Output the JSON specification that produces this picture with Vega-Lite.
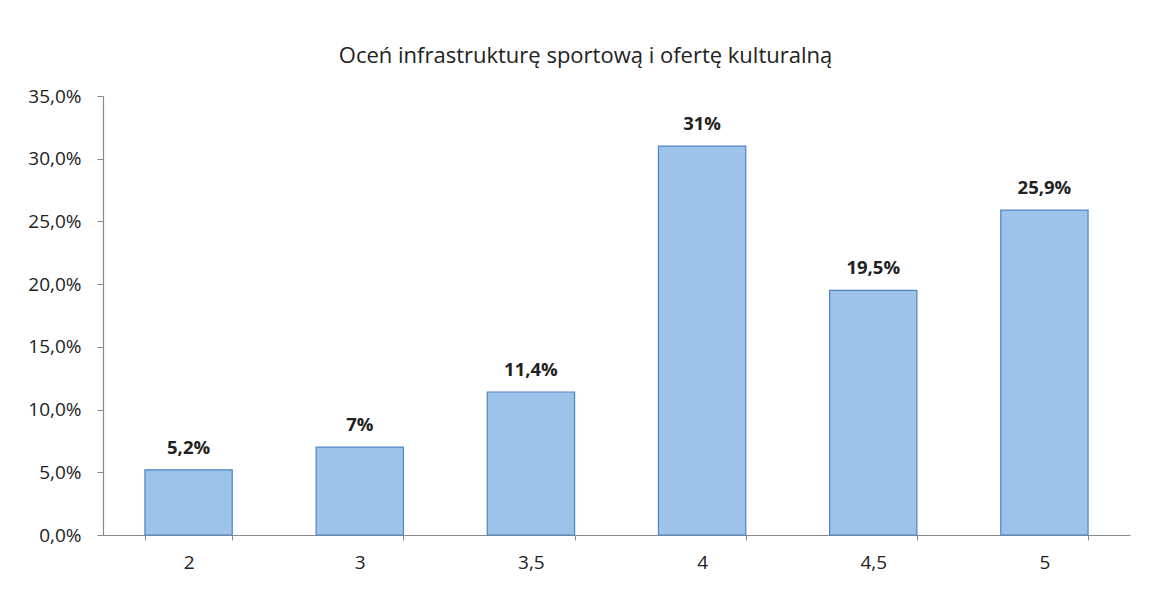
{
  "$schema": "https://vega.github.io/schema/vega-lite/v6.json",
  "autosize": {"type": "none"},
  "width": 1027,
  "height": 439,
  "padding": {"left": 103, "top": 96, "right": 20, "bottom": 58},
  "background": "white",
  "config": {
    "locale": {"number": {"decimal": ",", "thousands": " ", "grouping": [3], "currency": ["", " zł"]}},
    "view": {"stroke": null},
    "font": "Open Sans"
  },
  "title": {
    "text": "Oceń infrastrukturę sportową i ofertę kulturalną",
    "fontSize": 22,
    "fontWeight": "normal",
    "color": "#222222",
    "font": "Open Sans",
    "anchor": "middle",
    "dx": -31,
    "offset": 19
  },
  "data": {
    "values": [
      {"ocena": "2", "procent": 0.052, "etykieta": "5,2%"},
      {"ocena": "3", "procent": 0.07, "etykieta": "7%"},
      {"ocena": "3,5", "procent": 0.114, "etykieta": "11,4%"},
      {"ocena": "4", "procent": 0.31, "etykieta": "31%"},
      {"ocena": "4,5", "procent": 0.195, "etykieta": "19,5%"},
      {"ocena": "5", "procent": 0.259, "etykieta": "25,9%"}
    ]
  },
  "encoding": {
    "x": {
      "field": "ocena",
      "type": "nominal",
      "sort": null,
      "scale": {"paddingInner": 0.49, "paddingOuter": 0.245},
      "axis": {
        "title": null,
        "labelAngle": 0,
        "labelFontSize": 19,
        "labelColor": "#222222",
        "labelPadding": 13,
        "domainColor": "#8a8a8a",
        "domainWidth": 1.2,
        "ticks": true,
        "tickBand": "extent",
        "tickColor": "#8a8a8a",
        "tickSize": 5,
        "grid": false
      }
    },
    "y": {
      "field": "procent",
      "type": "quantitative",
      "scale": {"domain": [0, 0.35]},
      "axis": {
        "title": null,
        "format": ".1%",
        "values": [0, 0.05, 0.1, 0.15, 0.2, 0.25, 0.3, 0.35],
        "labelFontSize": 19,
        "labelColor": "#222222",
        "labelPadding": 16,
        "domainColor": "#8a8a8a",
        "domainWidth": 1.2,
        "tickColor": "#8a8a8a",
        "tickSize": 6,
        "grid": false
      }
    }
  },
  "layer": [
    {
      "mark": {"type": "bar", "fill": "#9dc3ea", "stroke": "#4f83c4", "strokeWidth": 1.2}
    },
    {
      "mark": {"type": "text", "fontWeight": "bold", "fontSize": 18.5, "color": "#222222", "baseline": "alphabetic", "dy": -16},
      "encoding": {"text": {"field": "etykieta"}}
    }
  ]
}
